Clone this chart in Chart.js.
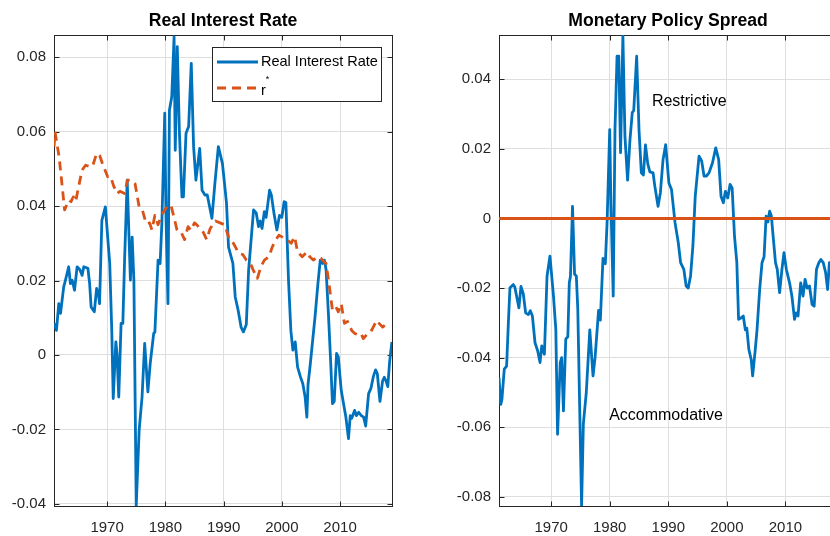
<!DOCTYPE html>
<html><head><meta charset="utf-8">
<script src="https://cdn.jsdelivr.net/npm/chart.js@4.4.0/dist/chart.umd.min.js"></script>
<style>
html,body{margin:0;padding:0;background:#fff;}
#wrap{position:relative;width:830px;height:536px;overflow:hidden;background:#fff;}
#c1{position:absolute;left:0;top:0;width:410px;height:536px;}
#c2{position:absolute;left:430px;top:0;width:420px;height:536px;}
</style></head><body>
<div id="wrap"><canvas id="c1" width="410" height="536"></canvas><canvas id="c2" width="420" height="536"></canvas></div>
<script>
// ---------- Data ----------
const xTicks = [1970, 1980, 1990, 2000, 2010];
const yTicksLeft = [-0.04, -0.02, 0, 0.02, 0.04, 0.06, 0.08];
const yTicksRight = [-0.08, -0.06, -0.04, -0.02, 0, 0.02, 0.04];

const rirYears = [1960.9,1961.3,1961.7,1962.0,1962.55,1962.85,1963.4,1963.7,1964.0,1964.4,1964.85,1965.3,1965.7,1966.0,1966.7,1967.0,1967.25,1967.8,1968.2,1968.5,1968.7,1969.1,1969.7,1970.45,1970.8,1971.05,1971.5,1971.7,1972.0,1972.4,1972.7,1973.0,1973.45,1974.0,1974.3,1974.6,1975.0,1975.5,1976.0,1976.45,1977.0,1977.4,1978.0,1978.2,1978.75,1979.1,1979.4,1979.9,1980.1,1980.45,1980.7,1981.1,1981.5,1981.7,1982.05,1982.4,1982.85,1983.1,1983.55,1984.0,1984.45,1984.85,1985.25,1985.9,1986.3,1986.8,1987.2,1988.0,1988.5,1989.1,1989.8,1990.1,1990.5,1990.85,1991.6,1992.0,1992.5,1993.0,1993.4,1993.9,1994.3,1995.15,1995.6,1996.0,1996.3,1996.6,1997.0,1997.3,1997.9,1998.2,1998.7,1999.15,1999.6,2000.0,2000.4,2000.7,2001.15,2001.55,2001.9,2002.3,2002.7,2003.2,2003.6,2004.0,2004.3,2004.5,2004.9,2005.3,2005.7,2006.2,2006.6,2007.0,2007.3,2007.6,2008.0,2008.4,2008.7,2009.0,2009.4,2009.7,2010.2,2010.6,2011.0,2011.45,2011.75,2012.0,2012.5,2012.8,2013.2,2013.65,2014.05,2014.4,2014.9,2015.3,2015.7,2016.1,2016.4,2016.85,2017.3,2017.6,2017.9,2018.2,2018.5,2018.9];
const rirValues = [0.0085,0.0066,0.0138,0.0112,0.0183,0.0201,0.0237,0.0192,0.0201,0.0174,0.0237,0.0230,0.0214,0.0237,0.0233,0.0192,0.0129,0.0116,0.0179,0.0165,0.0138,0.0362,0.0398,0.0246,0.0066,-0.0117,0.0035,0.0002,-0.0113,0.0085,0.0085,0.0255,0.0470,0.0201,0.0317,0.0201,-0.0405,-0.0203,-0.0113,0.0031,-0.0099,-0.0023,0.0058,0.0061,0.0255,0.0246,0.0353,0.0650,0.0380,0.0138,0.0658,0.0694,0.0855,0.0550,0.0829,0.0604,0.0425,0.0425,0.0596,0.0614,0.0784,0.0560,0.0470,0.0555,0.0443,0.0430,0.0430,0.0367,0.0460,0.0560,0.0515,0.0470,0.0408,0.0290,0.0246,0.0156,0.0120,0.0075,0.0062,0.0082,0.0228,0.0390,0.0382,0.0345,0.0360,0.0340,0.0385,0.0370,0.0443,0.0430,0.0376,0.0336,0.0375,0.0370,0.0412,0.0410,0.0201,0.0066,0.0013,0.0035,-0.0032,-0.0059,-0.0077,-0.0113,-0.0167,-0.0080,-0.0023,0.0040,0.0102,0.0192,0.0255,0.0246,0.0255,0.0230,0.0111,-0.0023,-0.0131,-0.0125,0.0004,-0.0005,-0.0095,-0.0131,-0.0167,-0.0225,-0.0163,-0.0170,-0.0149,-0.0163,-0.0154,-0.0163,-0.0167,-0.0191,-0.0104,-0.0090,-0.0059,-0.0040,-0.0050,-0.0125,-0.0070,-0.0060,-0.0070,-0.0085,-0.0020,0.0035];

const rstarYears = [1960.9,1961.05,1961.75,1962.3,1962.7,1963.4,1963.8,1964.2,1964.6,1965.1,1965.7,1966.3,1966.95,1967.5,1968.2,1968.75,1969.3,1970.1,1970.6,1971.1,1971.7,1972.2,1973.0,1973.5,1974.1,1974.8,1975.5,1976.0,1976.7,1977.3,1977.7,1978.2,1978.75,1979.3,1979.9,1980.45,1981.0,1981.6,1982.0,1982.7,1983.3,1983.9,1984.4,1985.0,1985.4,1986.0,1986.5,1987.1,1987.7,1988.6,1989.4,1990.2,1991.0,1991.7,1992.6,1993.3,1993.9,1994.6,1995.1,1995.8,1996.4,1997.0,1997.8,1998.35,1998.95,1999.5,2000.2,2001.0,2001.6,2002.2,2002.7,2003.5,2004.3,2004.8,2005.4,2006.1,2006.7,2007.25,2007.6,2008.1,2008.7,2009.3,2009.7,2010.2,2010.75,2011.3,2012.0,2012.5,2013.0,2013.6,2014.0,2014.6,2015.2,2015.7,2016.3,2016.7,2017.3,2017.7,2018.2];
const rstarValues = [0.0560,0.0600,0.0533,0.0452,0.0390,0.0416,0.0412,0.0425,0.0412,0.0452,0.0497,0.0510,0.0507,0.0507,0.0542,0.0535,0.0510,0.0479,0.0480,0.0455,0.0434,0.0440,0.0434,0.0470,0.0470,0.0460,0.0398,0.0393,0.0353,0.0355,0.0336,0.0375,0.0350,0.0375,0.0390,0.0403,0.0400,0.0363,0.0336,0.0330,0.0310,0.0345,0.0335,0.0355,0.0350,0.0338,0.0330,0.0310,0.0340,0.0360,0.0355,0.0350,0.0309,0.0300,0.0273,0.0270,0.0255,0.0246,0.0228,0.0206,0.0237,0.0255,0.0264,0.0290,0.0309,0.0322,0.0316,0.0309,0.0300,0.0318,0.0277,0.0264,0.0277,0.0264,0.0255,0.0264,0.0260,0.0250,0.0246,0.0192,0.0120,0.0129,0.0116,0.0138,0.0085,0.0090,0.0066,0.0058,0.0055,0.0058,0.0044,0.0055,0.0060,0.0075,0.0093,0.0085,0.0075,0.0080,0.0089];

const spreadYears = [1961.1,1961.4,1961.6,1962.0,1962.4,1962.7,1962.97,1963.55,1963.8,1964.1,1964.5,1964.85,1965.25,1965.65,1966.1,1966.45,1966.8,1967.25,1967.7,1968.1,1968.4,1968.85,1969.3,1969.8,1970.4,1970.8,1971.1,1971.55,1971.8,1972.1,1972.5,1972.85,1973.1,1973.3,1973.65,1974.0,1974.3,1974.55,1975.2,1975.5,1976.0,1976.6,1977.15,1977.5,1978.1,1978.4,1978.85,1979.25,1979.55,1980.0,1980.2,1980.6,1980.9,1981.25,1981.55,1981.85,1982.25,1982.6,1983.05,1983.45,1983.85,1984.1,1984.6,1985.0,1985.4,1985.75,1986.1,1986.5,1986.85,1987.4,1987.7,1988.25,1988.65,1989.1,1989.55,1990.1,1990.55,1991.15,1991.7,1992.1,1992.65,1993.05,1993.4,1993.8,1994.2,1994.6,1995.25,1995.7,1996.1,1996.5,1996.95,1997.55,1998.1,1998.6,1999.0,1999.4,1999.75,2000.15,2000.55,2000.9,2001.3,2001.7,2002.0,2002.4,2002.8,2003.15,2003.4,2003.75,2004.15,2004.4,2004.85,2005.15,2005.6,2006.0,2006.35,2006.7,2007.0,2007.3,2007.6,2007.85,2008.3,2008.6,2009.0,2009.4,2009.75,2010.15,2010.7,2011.1,2011.55,2011.85,2012.15,2012.6,2013.0,2013.35,2013.7,2014.1,2014.55,2014.9,2015.3,2015.7,2016.05,2016.45,2016.85,2017.2,2017.5,2017.8,2018.2];
const spreadValues = [-0.0457,-0.0534,-0.0520,-0.0433,-0.0424,-0.0300,-0.0199,-0.0190,-0.0197,-0.0223,-0.0257,-0.0195,-0.0217,-0.0271,-0.0276,-0.0265,-0.0280,-0.0357,-0.0380,-0.0414,-0.0366,-0.0390,-0.0166,-0.0108,-0.0223,-0.0319,-0.0620,-0.0414,-0.0400,-0.0553,-0.0346,-0.0340,-0.0185,-0.0166,0.0035,-0.0160,-0.0165,-0.0260,-0.0826,-0.0590,-0.0500,-0.0320,-0.0452,-0.0400,-0.0264,-0.0292,-0.0115,-0.0130,-0.0012,0.0255,0.0046,-0.0223,0.0255,0.0466,0.0466,0.0189,0.0525,0.0236,0.0110,0.0224,0.0304,0.0310,0.0466,0.0255,0.0131,0.0125,0.0211,0.0157,0.0134,0.0131,0.0093,0.0035,0.0074,0.0169,0.0212,0.0102,0.0083,-0.0012,-0.0069,-0.0127,-0.0146,-0.0194,-0.0200,-0.0165,-0.0079,0.0064,0.0179,0.0165,0.0122,0.0122,0.0131,0.0160,0.0203,0.0169,0.0064,0.0045,0.0078,0.0059,0.0098,0.0088,-0.0051,-0.0127,-0.0290,-0.0286,-0.0280,-0.0320,-0.0315,-0.0376,-0.0405,-0.0452,-0.0376,-0.0319,-0.0204,-0.0127,-0.0110,0.0007,-0.0010,0.0021,0.0007,-0.0042,-0.0127,-0.0146,-0.0213,-0.0146,-0.0098,-0.0146,-0.0185,-0.0223,-0.0290,-0.0271,-0.0280,-0.0185,-0.0223,-0.0175,-0.0200,-0.0194,-0.0247,-0.0252,-0.0146,-0.0127,-0.0118,-0.0127,-0.0155,-0.0204,-0.0127,-0.0137,-0.0150];

const zeroYears = [1961.1, 2018.8];
const zeroValues = [0, 0];

// ---------- Styling ----------
const FONT = '"Liberation Sans", Arial, Helvetica, sans-serif';
const BLUE = '#0072BD';
const ORANGE = '#D95319';
const GRID = '#dedede';
const AXIS = '#262626';

const pts = (xs, ys) => xs.map((x, i) => ({x: x, y: ys[i]}));

const boxPlugin = {
  id: 'box',
  beforeDatasetsDraw(chart) {
    const {ctx, chartArea: a, scales: {x, y}} = chart;
    ctx.save();
    ctx.strokeStyle = AXIS; ctx.lineWidth = 1;
    const L = Math.round(a.left) + 0.5, R = Math.round(a.right) + 0.5;
    const T = Math.round(a.top) + 0.5, B = Math.round(a.bottom) + 0.5;
    ctx.strokeRect(L, T, R - L, B - T);
    const tl = 5;
    ctx.beginPath();
    x.ticks.forEach(t => {
      const px = Math.round(x.getPixelForValue(t.value)) + 0.5;
      ctx.moveTo(px, B); ctx.lineTo(px, B - tl);
      ctx.moveTo(px, T); ctx.lineTo(px, T + tl);
    });
    y.ticks.forEach(t => {
      const py = Math.round(y.getPixelForValue(t.value)) + 0.5;
      ctx.moveTo(L, py); ctx.lineTo(L + tl, py);
      ctx.moveTo(R, py); ctx.lineTo(R - tl, py);
    });
    ctx.stroke();
    ctx.restore();
  }
};

const legendPlugin = {
  id: 'customLegend',
  afterDraw(chart) {
    const ctx = chart.ctx;
    const ds = chart.data.datasets;
    ctx.save();
    ctx.fillStyle = '#fff';
    ctx.fillRect(212.5, 47.5, 169, 54);
    ctx.strokeStyle = AXIS; ctx.lineWidth = 1;
    ctx.strokeRect(212.5, 47.5, 169, 54);
    ctx.lineWidth = 2.8;
    ctx.strokeStyle = ds[0].borderColor;
    ctx.beginPath(); ctx.moveTo(217, 62); ctx.lineTo(258, 62); ctx.stroke();
    ctx.setLineDash([9, 6]);
    ctx.strokeStyle = ds[1].borderColor;
    ctx.beginPath(); ctx.moveTo(217, 88); ctx.lineTo(258, 88); ctx.stroke();
    ctx.setLineDash([]);
    ctx.fillStyle = '#000';
    ctx.textAlign = 'left'; ctx.textBaseline = 'middle';
    ctx.font = '14.5px ' + FONT;
    ctx.fillText(ds[0].label, 261, 62);
    const base = ds[1].label.replace('*', '');
    ctx.fillText(base, 261, 91);
    const w = ctx.measureText(base).width;
    ctx.font = '9px ' + FONT;
    ctx.fillText('*', 261 + w, 80);
    ctx.restore();
  }
};

const annotPlugin = {
  id: 'annot',
  afterDatasetsDraw(chart) {
    const {ctx, scales: {x, y}} = chart;
    ctx.save();
    ctx.fillStyle = '#000';
    ctx.font = '16px ' + FONT;
    ctx.textAlign = 'left'; ctx.textBaseline = 'middle';
    ctx.fillText('Restrictive', x.getPixelForValue(1987.2), y.getPixelForValue(0.0337));
    ctx.fillText('Accommodative', x.getPixelForValue(1979.9), y.getPixelForValue(-0.0565));
    ctx.restore();
  }
};

function makeOptions(cfg) {
  return {
    responsive: false,
    animation: false,
    layout: {padding: {left: 0, right: cfg.padRight, top: 0, bottom: 0}},
    plugins: {
      legend: {display: false},
      tooltip: {enabled: false},
      title: {
        display: true, text: cfg.title, color: '#000', fullSize: false,
        font: {family: FONT, size: 17.6, weight: 'bold'},
        padding: {top: 10.5, bottom: 3.4}
      }
    },
    elements: {point: {radius: 0}, line: {tension: 0, borderJoinStyle: 'round'}},
    scales: {
      x: {
        type: 'linear', min: cfg.xMin, max: cfg.xMax,
        afterBuildTicks: s => { s.ticks = xTicks.map(v => ({value: v})); },
        afterFit: s => { s.height = 30; },
        grid: {color: GRID, drawTicks: false},
        border: {display: false},
        ticks: {color: AXIS, font: {family: FONT, size: 15}, padding: 13, maxRotation: 0, autoSkip: false,
                callback: v => String(v)}
      },
      y: {
        type: 'linear', min: cfg.yMin, max: cfg.yMax,
        afterBuildTicks: s => { s.ticks = cfg.yTicks.map(v => ({value: v})); },
        afterFit: s => { s.width = cfg.yWidth; },
        grid: {color: GRID, drawTicks: false},
        border: {display: false},
        ticks: {color: AXIS, font: {family: FONT, size: 15}, padding: 8, autoSkip: false,
                callback: v => (Math.abs(v) < 1e-12 ? '0' : Number(v).toFixed(2))}
      }
    }
  };
}

new Chart(document.getElementById('c1'), {
  type: 'line',
  data: {
    datasets: [
      {label: 'Real Interest Rate', data: pts(rirYears, rirValues), borderColor: BLUE, borderWidth: 2.8, fill: false, order: 1},
      {label: 'r*', data: pts(rstarYears, rstarValues), borderColor: ORANGE, borderWidth: 2.8, borderDash: [9, 6], fill: false, order: 0}
    ]
  },
  options: makeOptions({title: 'Real Interest Rate', xMin: 1960.88, xMax: 2018.92, yMin: -0.0406, yMax: 0.0860,
                        yTicks: yTicksLeft, yWidth: 54, padRight: 18}),
  plugins: [boxPlugin, legendPlugin]
});

new Chart(document.getElementById('c2'), {
  type: 'line',
  data: {
    datasets: [
      {label: 'Monetary Policy Spread', data: pts(spreadYears, spreadValues), borderColor: BLUE, borderWidth: 2.8, fill: false, order: 1},
      {label: 'Zero', data: pts(zeroYears, zeroValues), borderColor: ORANGE, borderWidth: 3, fill: false, order: 0}
    ]
  },
  options: makeOptions({title: 'Monetary Policy Spread', xMin: 1961.1, xMax: 2018.8, yMin: -0.0826, yMax: 0.0527,
                        yTicks: yTicksRight, yWidth: 69, padRight: 13}),
  plugins: [boxPlugin, annotPlugin]
});
</script>
</body></html>
